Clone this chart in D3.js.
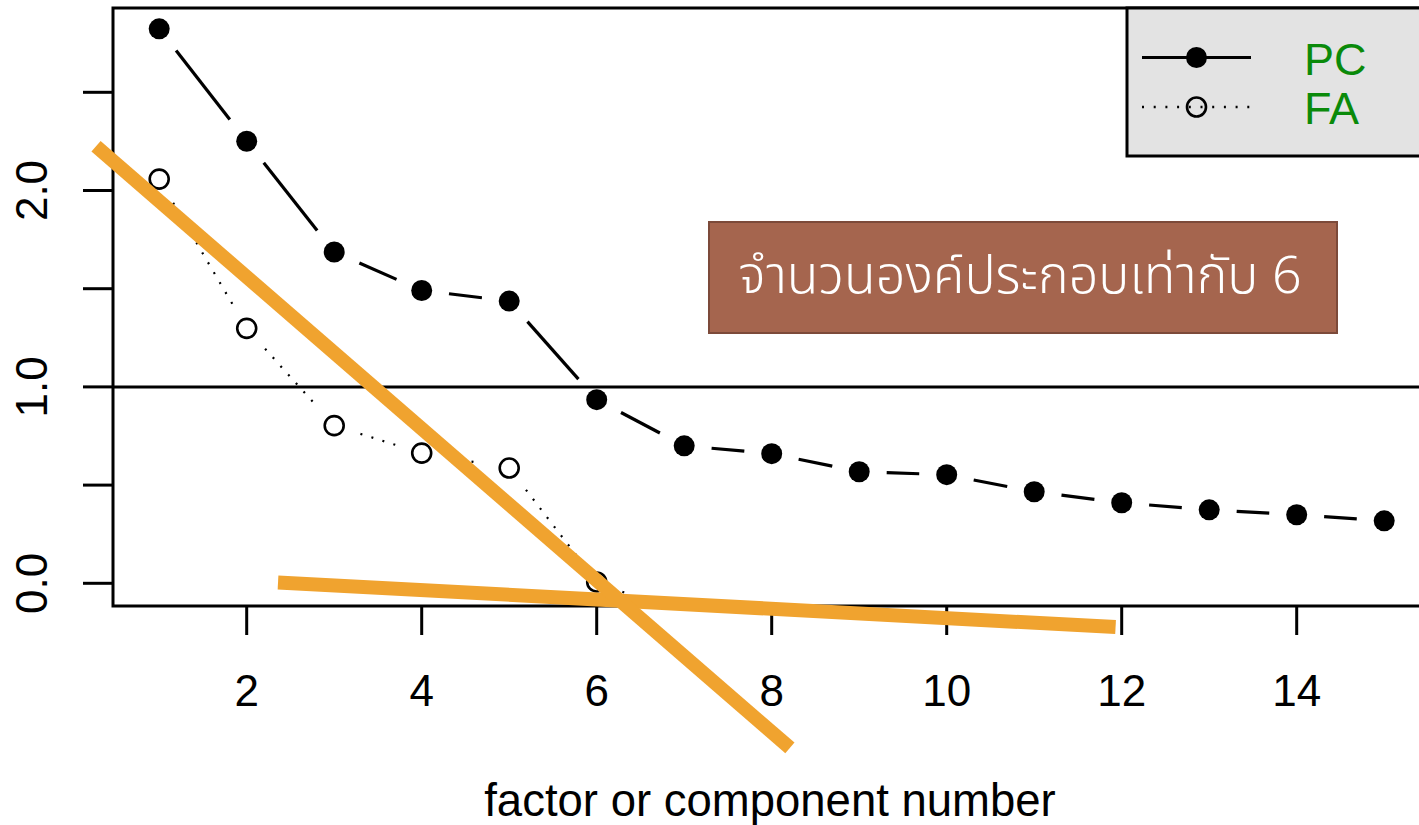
<!DOCTYPE html>
<html>
<head>
<meta charset="utf-8">
<script src="https://cdn.jsdelivr.net/npm/d3@7"></script>
<style>
  html, body { margin: 0; padding: 0; background: #fff; overflow: hidden; }
  svg { display: block; font-family: "Liberation Sans", Arial, sans-serif; }
</style>
</head>
<body>
<svg id="chart" width="1419" height="825"></svg>
<script>
// ---- data ----
const components = [1, 2, 3, 4, 5, 6, 7, 8, 9, 10, 11, 12, 13, 14, 15];
const pcValues = [2.823, 2.251, 1.687, 1.491, 1.437, 0.935, 0.700, 0.660, 0.568, 0.553, 0.466, 0.410, 0.374, 0.349, 0.318];
const faComponents = [1, 2, 3, 4, 5, 6, 7];
const faValues = [2.058, 1.298, 0.803, 0.663, 0.587, 0.007, -0.165];
const xTicks = [2, 4, 6, 8, 10, 12, 14];
const yTicks = [0, 0.5, 1, 1.5, 2, 2.5];
const yTickLabels = ["0.0", "", "1.0", "", "2.0", ""];
const refLine = 1.0;
const legendLabels = ["PC", "FA"];
const annotationText = "จำนวนองค์ประกอบเท่ากับ 6";
const xTitle = "factor or component number";
// hand-drawn elbow lines (data coordinates)
const elbowSteep = [[0.278, 2.225], [8.208, -0.838]];
const elbowFlat = [[2.358, 0.004], [11.93, -0.223]];

// ---- layout ----
const svg = d3.select("#chart");
const x = d3.scaleLinear().domain([1, 15]).range([159.2, 1384.2]);
const y = d3.scaleLinear().domain([0, 2]).range([583.3, 190.5]);
const plot = { left: 113, top: 8, right: 1432, bottom: 606 };

svg.append("defs").append("clipPath").attr("id", "clip")
  .append("rect").attr("x", plot.left).attr("y", plot.top)
  .attr("width", plot.right - plot.left).attr("height", plot.bottom - plot.top);

// gapped segments (R type="b")
function gappedSegments(xs, ys, gap) {
  const segs = [];
  for (let i = 0; i < xs.length - 1; i++) {
    const x0 = x(xs[i]), y0 = y(ys[i]), x1 = x(xs[i + 1]), y1 = y(ys[i + 1]);
    const d = Math.hypot(x1 - x0, y1 - y0);
    if (d <= 2 * gap) continue;
    const ux = (x1 - x0) / d, uy = (y1 - y0) / d;
    segs.push([x0 + ux * gap, y0 + uy * gap, x1 - ux * gap, y1 - uy * gap]);
  }
  return segs;
}

const g = svg.append("g").attr("clip-path", "url(#clip)");

// reference line at 1
g.append("line").attr("x1", plot.left).attr("x2", plot.right)
  .attr("y1", y(refLine)).attr("y2", y(refLine))
  .attr("stroke", "#000").attr("stroke-width", 3);

// PC line
g.selectAll(".pcseg").data(gappedSegments(components, pcValues, 27.5)).enter()
  .append("line").attr("class", "pcseg")
  .attr("x1", d => d[0]).attr("y1", d => d[1]).attr("x2", d => d[2]).attr("y2", d => d[3])
  .attr("stroke", "#000").attr("stroke-width", 3.2);
// FA line
g.selectAll(".faseg").data(gappedSegments(faComponents, faValues, 27.5)).enter()
  .append("line").attr("class", "faseg")
  .attr("x1", d => d[0]).attr("y1", d => d[1]).attr("x2", d => d[2]).attr("y2", d => d[3])
  .attr("stroke", "#000").attr("stroke-width", 2.2)
  .attr("stroke-dasharray", "2,9.5");

// points
g.selectAll(".pc").data(components).enter().append("circle")
  .attr("cx", d => x(d)).attr("cy", (d, i) => y(pcValues[i])).attr("r", 10.5)
  .attr("fill", "#000");
g.selectAll(".fa").data(faComponents).enter().append("circle")
  .attr("cx", d => x(d)).attr("cy", (d, i) => y(faValues[i])).attr("r", 9.5)
  .attr("fill", "none").attr("stroke", "#000").attr("stroke-width", 2.6);

// axes box (left, top, bottom)
svg.append("path")
  .attr("d", `M${plot.right},${plot.top}H${plot.left}V${plot.bottom}H${plot.right}`)
  .attr("fill", "none").attr("stroke", "#000").attr("stroke-width", 3);

// y axis
const yAxis = svg.append("g");
yAxis.selectAll("line").data(yTicks).enter().append("line")
  .attr("x1", 83).attr("x2", plot.left).attr("y1", d => y(d)).attr("y2", d => y(d))
  .attr("stroke", "#000").attr("stroke-width", 3);
yAxis.selectAll("text").data(yTicks).enter().append("text")
  .attr("transform", d => `translate(47,${y(d)}) rotate(-90)`)
  .attr("text-anchor", "middle").attr("font-size", 44).attr("fill", "#000")
  .text((d, i) => yTickLabels[i]);

// x axis
const xAxis = svg.append("g");
xAxis.selectAll("line").data(xTicks).enter().append("line")
  .attr("x1", d => x(d)).attr("x2", d => x(d)).attr("y1", plot.bottom).attr("y2", 635)
  .attr("stroke", "#000").attr("stroke-width", 3);
xAxis.selectAll("text").data(xTicks).enter().append("text")
  .attr("x", d => x(d)).attr("y", 706)
  .attr("text-anchor", "middle").attr("font-size", 44).attr("fill", "#000")
  .text(d => d);

svg.append("text").attr("x", 770).attr("y", 816).attr("text-anchor", "middle")
  .attr("font-size", 45.5).attr("fill", "#000").text(xTitle);

// legend
const lg = svg.append("g");
lg.append("rect").attr("x", 1127).attr("y", plot.top).attr("width", 320).attr("height", 148)
  .attr("fill", "#e3e3e3").attr("stroke", "#000").attr("stroke-width", 3);
const legendY = [57.5, 107];
lg.append("line").attr("x1", 1142).attr("x2", 1251).attr("y1", legendY[0]).attr("y2", legendY[0])
  .attr("stroke", "#000").attr("stroke-width", 3);
lg.append("circle").attr("cx", 1196.5).attr("cy", legendY[0]).attr("r", 10.5).attr("fill", "#000");
lg.append("line").attr("x1", 1142).attr("x2", 1251).attr("y1", legendY[1]).attr("y2", legendY[1])
  .attr("stroke", "#000").attr("stroke-width", 2.4).attr("stroke-dasharray", "2,9.7");
lg.append("circle").attr("cx", 1196.5).attr("cy", legendY[1]).attr("r", 9.5)
  .attr("fill", "none").attr("stroke", "#000").attr("stroke-width", 2.6);
lg.selectAll("text.lab").data(legendLabels).enter().append("text")
  .attr("x", 1304).attr("y", (d, i) => legendY[i] + 17)
  .attr("font-size", 45).attr("fill", "#0a8a0a").text(d => d);

// annotation box
svg.append("rect").attr("x", 709).attr("y", 222).attr("width", 628).attr("height", 111)
  .attr("fill", "#a5654e").attr("stroke", "#7c4a3a").attr("stroke-width", 2);
svg.append("text").attr("x", 1020).attr("y", 293).attr("text-anchor", "middle")
  .attr("font-size", 52).attr("font-weight", 300).attr("fill", "#fff")
  .style("font-family", "'Noto Sans Thai', 'Noto Sans', 'DejaVu Sans', sans-serif")
  .text(annotationText);

// orange elbow lines (drawn over everything, not clipped)
const lineGen = d3.line().x(d => x(d[0])).y(d => y(d[1]));
[elbowFlat, elbowSteep].forEach(pts => {
  svg.append("path").attr("d", lineGen(pts))
    .attr("fill", "none").attr("stroke", "#f0a32f").attr("stroke-width", 14);
});
</script>
</body>
</html>
